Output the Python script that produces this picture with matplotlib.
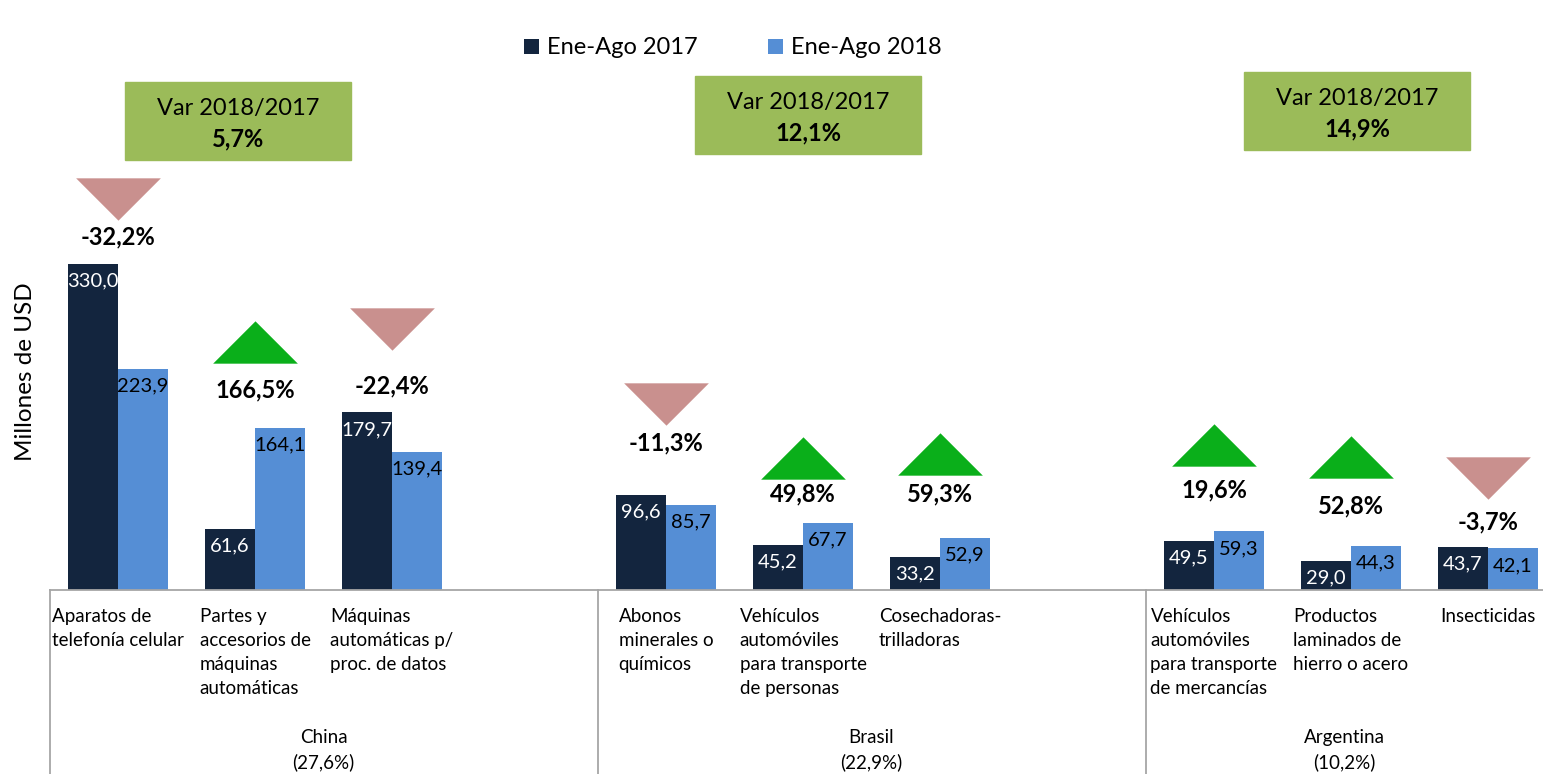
import matplotlib
matplotlib.use("Agg")
from matplotlib import pyplot as plt
from matplotlib.path import Path
from matplotlib.patches import Rectangle
import matplotlib.transforms as mtransforms

plt.rcParams['font.family'] = ['Lato', 'DejaVu Sans']

# data
categories = ["Aparatos de\ntelefonía celular",
              "Partes y\naccesorios de\nmáquinas\nautomáticas",
              "Máquinas\nautomáticas p/\nproc. de datos",
              "Abonos\nminerales o\nquímicos",
              "Vehículos\nautomóviles\npara transporte\nde personas",
              "Cosechadoras-\ntrilladoras",
              "Vehículos\nautomóviles\npara transporte\nde mercancías",
              "Productos\nlaminados de\nhierro o acero",
              "Insecticidas"]
values_2017 = [330.0, 61.6, 179.7, 96.6, 45.2, 33.2, 49.5, 29.0, 43.7]
values_2018 = [223.9, 164.1, 139.4, 85.7, 67.7, 52.9, 59.3, 44.3, 42.1]
variation = [-32.2, 166.5, -22.4, -11.3, 49.8, 59.3, 19.6, 52.8, -3.7]
groups = ["China\n(27,6%)", "Brasil\n(22,9%)", "Argentina\n(10,2%)"]
group_variation = [5.7, 12.1, 14.9]
series_names = ["Ene-Ago 2017", "Ene-Ago 2018"]

# layout tweaks (pixels) for the variation labels / arrows above each pair
label_offsets = [27, 38, 27, 52, 29, 44, 41, 40, 25]
arrow_gaps = [17, 27, 35, 18, 15, 19, 24, 28, 23]
# green boxes: left, top in pixels of the figure
box_positions = [(125, 82), (695, 76), (1244, 72)]

DARK = "#13253E"
LIGHT = "#558ED5"
PINK = "#C9908E"
GREEN = "#0AAF1A"
BOX = "#9BBB59"
GRID = "#A6A6A6"


def fmt(v):
    return "{:.1f}".format(v).replace(".", ",")


W, H = 1543, 774
fig = plt.figure(figsize=(W / 100, H / 100), dpi=100)
base_px = 590
slot_px = 137
left_px = 49.5
ax = fig.add_axes([left_px / W, (H - base_px) / H, (W - left_px) / W, base_px / H])
x_max = -0.5 + (W - left_px) / slot_px
ax.set_xlim(-0.5, x_max)
ax.set_ylim(0, base_px / 0.988)
ax.patch.set_alpha(0)

# slots: 3 per group, one empty slot between groups
positions = []
for g in range(len(groups)):
    positions += [g * 4 + i for i in range(3)]

bw = 0.365
b1 = ax.bar([p - bw / 2 for p in positions], values_2017, bw, color=DARK, label=series_names[0])
b2 = ax.bar([p + bw / 2 for p in positions], values_2018, bw, color=LIGHT, label=series_names[1])

for rect, v in zip(b1, values_2017):
    ax.annotate(fmt(v), (rect.get_x() + rect.get_width() / 2, rect.get_height()),
                xytext=(0, -17), textcoords="offset pixels", ha="center", va="center",
                color="white", fontsize=14.5)
for rect, v in zip(b2, values_2018):
    ax.annotate(fmt(v), (rect.get_x() + rect.get_width() / 2, rect.get_height()),
                xytext=(0, -17), textcoords="offset pixels", ha="center", va="center",
                color="black", fontsize=14.5)

up = Path([(-1, -0.5), (1, -0.5), (0, 0.5), (-1, -0.5)],
          [Path.MOVETO, Path.LINETO, Path.LINETO, Path.CLOSEPOLY])
down = Path([(-1, 0.5), (1, 0.5), (0, -0.5), (-1, 0.5)],
            [Path.MOVETO, Path.LINETO, Path.LINETO, Path.CLOSEPOLY])

for p, a, b, var, off, gap in zip(positions, values_2017, values_2018, variation,
                                  label_offsets, arrow_gaps):
    top = max(a, b)
    ax.annotate(fmt(var) + "%", (p, top), xytext=(0, off), textcoords="offset pixels",
                ha="center", va="center", fontsize=17, fontweight="bold")
    # triangle sits above the label
    tri = mtransforms.offset_copy(ax.transData, fig=fig, x=0, y=(off + gap + 21) / 100 * 72,
                                  units="points")
    ax.plot([p], [top], marker=up if var > 0 else down, markersize=61,
            color=GREEN if var > 0 else PINK, transform=tri, clip_on=False,
            markeredgewidth=0)

# axis cosmetics
ax.set_yticks([])
ax.set_xticks([])
for s in ["top", "right", "left"]:
    ax.spines[s].set_visible(False)
ax.spines["bottom"].set_color(GRID)
ax.spines["bottom"].set_linewidth(1.3)
ax.set_ylabel("Millones de USD", fontsize=17.5)
ax.yaxis.set_label_coords(-13 / (W - left_px), 0.37)

# category labels
for p, c in zip(positions, categories):
    ax.annotate(c, (p, 0), xytext=(0, -18), textcoords="offset pixels",
                ha="center", va="top", multialignment="left", fontsize=13.5,
                linespacing=1.5, annotation_clip=False)

# group separators and labels
blend = mtransforms.blended_transform_factory(ax.transData, ax.transAxes)
bottom = -(H - base_px) / base_px
for g, name in enumerate(groups):
    left = g * 4 - 0.5
    right = min(left + 4, x_max)
    ax.plot([left, left], [0, bottom], color=GRID, lw=1.3, transform=blend, clip_on=False)
    ax.annotate(name, ((left + right) / 2, 0), xytext=(0, -160), textcoords="offset pixels",
                ha="center", va="center", fontsize=13.5, linespacing=1.5,
                annotation_clip=False)

# variation boxes per group
for (bx, by), gv in zip(box_positions, group_variation):
    fig.patches.append(Rectangle((bx / W, 1 - (by + 78) / H), 226 / W, 78 / H,
                                 transform=fig.transFigure, color=BOX))
    cx = (bx + 113) / W
    fig.text(cx, 1 - (by + 26) / H, "Var 2018/2017", ha="center", va="center", fontsize=17)
    fig.text(cx, 1 - (by + 57) / H, fmt(gv) + "%", ha="center", va="center",
             fontsize=17, fontweight="bold")

fig.legend(loc="center", bbox_to_anchor=(0.475, 1 - 48 / H), ncol=2, frameon=False,
           fontsize=17, handlelength=0.6, handleheight=0.6, columnspacing=3.0,
           handletextpad=0.35)

fig.savefig("out.png", dpi=100)
